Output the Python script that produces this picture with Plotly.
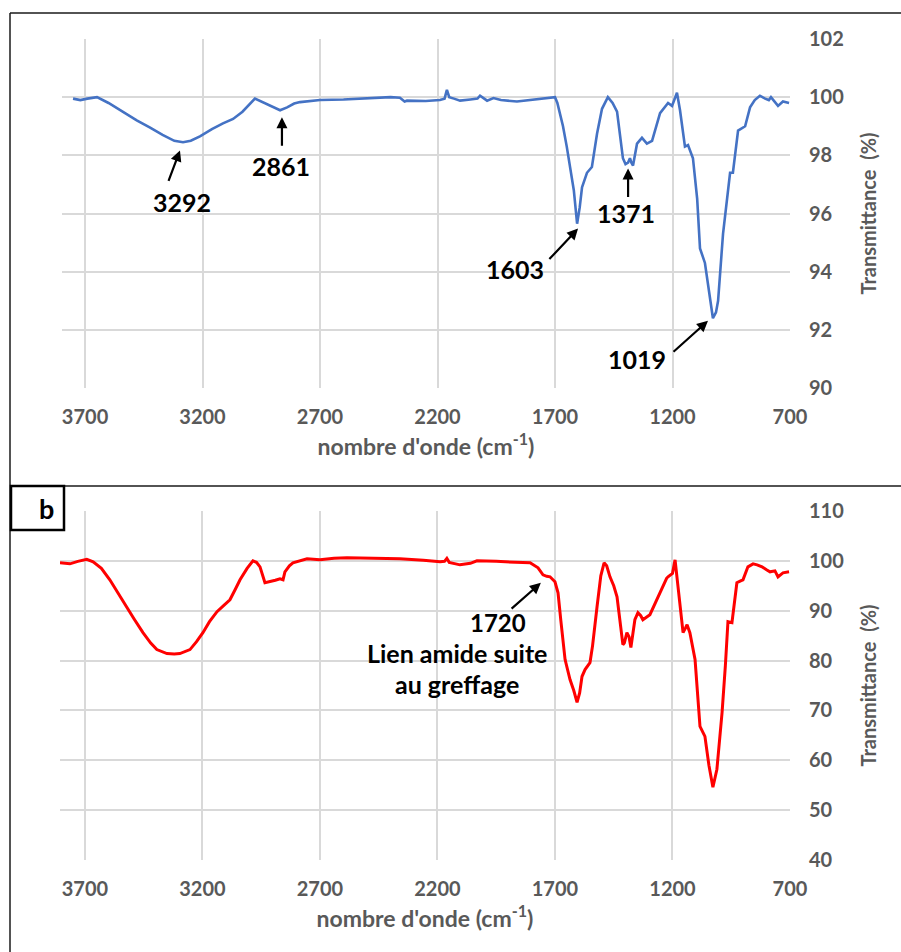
import plotly.graph_objects as go

# ---------- data ----------
top_x = [3751, 3720, 3690, 3649, 3600, 3540, 3480, 3423, 3370, 3320, 3283, 3250, 3211, 3160, 3113, 3070,
         3030, 2977, 2950, 2926, 2895, 2870, 2840, 2810, 2785, 2740, 2700, 2600, 2500, 2400, 2360, 2340,
         2330, 2250, 2190, 2170, 2160, 2150, 2130, 2104, 2060, 2030, 2019, 2000, 1989, 1962, 1930, 1862,
         1800, 1740, 1700, 1690, 1666, 1650, 1636, 1620, 1606, 1595, 1585, 1564, 1543, 1521, 1500, 1475,
         1455, 1436, 1411, 1400, 1389, 1381, 1375, 1368, 1351, 1330, 1309, 1287, 1253, 1219, 1202, 1181,
         1168, 1147, 1134, 1113, 1095, 1083, 1062, 1045, 1028, 1015, 1006, 985, 955, 943, 921, 891, 870,
         850, 828, 806, 790, 781, 765, 751, 730, 704]
top_y = [99.95, 99.9, 99.95, 100.0, 99.8, 99.5, 99.2, 98.95, 98.7, 98.5, 98.45, 98.5, 98.65, 98.9, 99.1, 99.25,
         99.5, 99.95, 99.85, 99.75, 99.62, 99.55, 99.65, 99.78, 99.83, 99.87, 99.9, 99.92, 99.95, 100.0, 99.98, 99.85,
         99.88, 99.87, 99.9, 99.95, 100.25, 100.0, 99.95, 99.88, 99.92, 99.95, 100.05, 99.95, 99.88, 99.97, 99.9, 99.85,
         99.9, 99.95, 100.0, 99.8, 99.0, 98.3, 97.6, 96.8, 95.65, 96.2, 96.9, 97.4, 97.6, 98.75, 99.6, 100.0,
         99.8, 99.5, 97.9, 97.7, 97.75, 97.9, 97.75, 97.65, 98.4, 98.6, 98.4, 98.5, 99.45, 99.8, 99.7, 100.15,
         99.55, 98.3, 98.35, 97.9, 96.5, 94.8, 94.3, 93.3, 92.4, 92.6, 93.0, 95.3, 97.4, 97.4, 98.85, 99.0, 99.65,
         99.9, 100.05, 99.95, 99.9, 100.0, 99.85, 99.7, 99.85, 99.8]

bot_x = [3806, 3764, 3730, 3692, 3665, 3630, 3594, 3560, 3523, 3490, 3453, 3420, 3394, 3351, 3320, 3296,
         3270, 3253, 3225, 3198, 3170, 3138, 3110, 3083, 3060, 3040, 3010, 2985, 2970, 2955, 2934, 2913,
         2890, 2870, 2857, 2849, 2830, 2815, 2780, 2755, 2700, 2640, 2585, 2480, 2360, 2260, 2189, 2170,
         2160, 2150, 2104, 2060, 2032, 1950, 1862, 1806, 1772, 1751, 1735, 1721, 1700, 1687, 1675, 1665,
         1657, 1636, 1620, 1606, 1595, 1585, 1572, 1551, 1540, 1521, 1505, 1491, 1480, 1466, 1450, 1436,
         1420, 1411, 1405, 1394, 1385, 1377, 1360, 1347, 1335, 1326, 1296, 1262, 1240, 1225, 1219, 1200,
         1189, 1180, 1168, 1155, 1145, 1138, 1126, 1104, 1083, 1062, 1045, 1028, 1011, 989, 975, 964, 947,
         926, 910, 900, 879, 857, 840, 819, 800, 785, 764, 751, 730, 704]
bot_y = [99.6, 99.4, 99.9, 100.3, 99.8, 98.5, 96.2, 93.5, 90.8, 88.3, 85.6, 83.5, 82.2, 81.4, 81.3, 81.4,
         81.8, 82.2, 83.8, 85.6, 87.8, 89.8, 91.0, 92.2, 94.3, 96.2, 98.5, 100.0, 99.7, 98.8, 95.6, 95.8,
         96.1, 96.4, 96.2, 97.8, 99.0, 99.6, 100.1, 100.4, 100.2, 100.5, 100.6, 100.5, 100.4, 100.1, 99.8, 99.9,
         100.5, 99.7, 99.2, 99.5, 100.0, 99.9, 99.8, 99.6, 98.6, 97.2, 96.9, 96.8, 95.8, 93.6, 88.0, 83.0,
         80.2, 76.2, 74.0, 71.6, 73.5, 76.8, 78.2, 79.6, 83.0, 90.8, 97.0, 99.6, 99.0, 96.8, 95.0, 92.8,
         87.0, 83.2, 83.5, 85.6, 84.8, 82.6, 88.2, 89.6, 89.0, 88.2, 89.2, 92.8, 94.8, 96.5, 96.8, 97.5,
         100.2, 96.0, 90.8, 85.6, 86.5, 87.2, 85.6, 80.2, 66.8, 64.8, 59.0, 54.6, 58.2, 69.6, 79.0, 87.8, 87.6,
         95.6, 96.0, 96.2, 98.8, 99.4, 99.2, 98.8, 98.2, 97.8, 98.0, 96.8, 97.6, 97.8]

x_ticks = [3700, 3200, 2700, 2200, 1700, 1200, 700]
top_y_ticks = [90, 92, 94, 96, 98, 100, 102]
bot_y_ticks = [40, 50, 60, 70, 80, 90, 100, 110]

# peak labels: (label, text_x, text_y, arrow_tail_x, arrow_tail_y, arrow_head_x, arrow_head_y)
top_peaks = [
    ("3292", 3287, 96.38, 3347, 97.07, 3296, 98.17),
    ("2861", 2866, 97.62, 2862, 98.28, 2862, 99.31),
    ("1603", 1870, 94.10, 1730, 94.38, 1602, 95.48),
    ("1371", 1398, 96.00, 1389, 96.52, 1389, 97.55),
    ("1019", 1351, 91.00, 1202, 91.20, 1049, 92.31),
]
bot_peaks = [
    ("1720", 1943, 87.7, 1891, 90.17, 1760, 95.59),
]
bot_note_lines = ["Lien amide suite", "au greffage"]
bot_note_x = 2117
bot_note_y = [81.5, 75.4]

# ---------- figure ----------
W, H = 901, 952
FONT = "Lato"
GREY = "#595959"
GRID = "#d9d9d9"

def px_x(p):
    return p / W

def px_y(p):
    return 1 - p / H

fig = go.Figure()
fig.add_trace(go.Scatter(x=top_x, y=top_y, mode="lines",
                         line=dict(color="#4472C4", width=2.6), xaxis="x", yaxis="y",
                         showlegend=False, hoverinfo="skip"))
fig.add_trace(go.Scatter(x=bot_x, y=bot_y, mode="lines",
                         line=dict(color="#FF0000", width=3), xaxis="x2", yaxis="y2",
                         showlegend=False, hoverinfo="skip"))

xaxis_common = dict(
    tickmode="array", tickvals=x_ticks, ticktext=[str(t) for t in x_ticks],
    showgrid=True, gridcolor=GRID, gridwidth=1.5, zeroline=False,
    showline=False, ticks="", ticklabelstandoff=15,
    tickfont=dict(family=FONT, size=20, color=GREY, weight="bold"),
    title=dict(text="nombre d'onde (cm<sup>-1</sup>)", standoff=11,
               font=dict(family=FONT, size=23, color=GREY, weight="bold")),
)
yaxis_common = dict(
    side="right", showgrid=True, gridcolor=GRID, gridwidth=1.5, zeroline=False,
    showline=False, ticks="", ticklabelstandoff=18,
    tickfont=dict(family=FONT, size=20, color=GREY, weight="bold"),
    title=dict(text="Transmittance\u00a0\u00a0(%)", standoff=18,
               font=dict(family=FONT, size=20, color=GREY, weight="bold")),
)

fig.update_layout(
    width=W, height=H,
    margin=dict(l=0, r=0, t=0, b=0, autoexpand=False),
    paper_bgcolor="white", plot_bgcolor="white",
    xaxis=dict(xaxis_common, domain=[px_x(62), px_x(790)], range=[3798, 700], anchor="y"),
    yaxis=dict(yaxis_common, domain=[px_y(388), px_y(39)], range=[90, 102],
               tickvals=top_y_ticks, anchor="x"),
    xaxis2=dict(xaxis_common, domain=[px_x(60), px_x(790)], range=[3806, 700], anchor="y2"),
    yaxis2=dict(yaxis_common, domain=[px_y(860), px_y(511)], range=[40, 110],
                tickvals=bot_y_ticks, anchor="x2"),
)

annotations = []
def add_peaks(peaks, xr, yr, size):
    for lab, tx, ty, ax_, ay_, hx, hy in peaks:
        annotations.append(dict(x=hx, y=hy, ax=ax_, ay=ay_, xref=xr, yref=yr, axref=xr, ayref=yr,
                                text="", showarrow=True, arrowhead=2, arrowsize=1, arrowwidth=2.2,
                                arrowcolor="black", standoff=0, startstandoff=0))
        annotations.append(dict(x=tx, y=ty, xref=xr, yref=yr, text=lab, showarrow=False, borderpad=0,
                                font=dict(family=FONT, size=size, color="black", weight="bold")))

add_peaks(top_peaks, "x", "y", 25)
add_peaks(bot_peaks, "x2", "y2", 24)
for line_txt, ly in zip(bot_note_lines, bot_note_y):
    annotations.append(dict(x=bot_note_x, y=ly, xref="x2", yref="y2", text=line_txt,
                            showarrow=False, align="center", borderpad=0,
                            font=dict(family=FONT, size=25, color="black", weight="bold")))
annotations.append(dict(x=px_x(37), y=px_y(508), xref="paper", yref="paper", text="b",
                        showarrow=False, font=dict(family=FONT, size=27, color="black", weight="bold")))
fig.update_layout(annotations=annotations)

LC = "#1a1a1a"
shapes = [
    dict(type="line", xref="paper", yref="paper", x0=px_x(10), x1=1, y0=px_y(13), y1=px_y(13),
         line=dict(color=LC, width=1.5)),
    dict(type="line", xref="paper", yref="paper", x0=px_x(10), x1=px_x(10), y0=px_y(13), y1=0,
         line=dict(color=LC, width=1.5)),
    dict(type="line", xref="paper", yref="paper", x0=px_x(10), x1=1, y0=px_y(486), y1=px_y(486),
         line=dict(color=LC, width=1.5)),
    dict(type="rect", xref="paper", yref="paper", x0=px_x(11), x1=px_x(64), y0=px_y(486), y1=px_y(530),
         line=dict(color="black", width=2.5), fillcolor="rgba(0,0,0,0)"),
]
fig.update_layout(shapes=shapes)

fig.write_html("out.html", config={"displayModeBar": False},
               post_script="document.body.style.margin='0';document.body.style.overflow='hidden';")
